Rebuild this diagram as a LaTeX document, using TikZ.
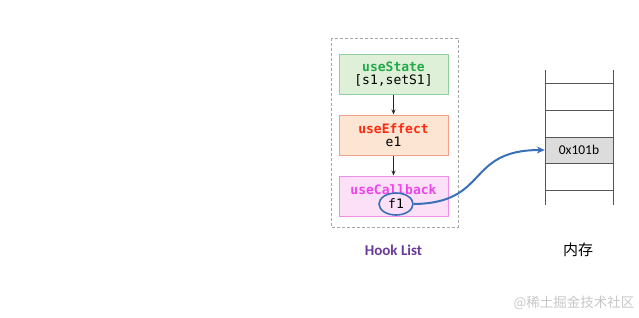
\documentclass[tikz,border=0pt]{standalone}
\usepackage{fontspec}
\setmainfont{Carlito}
\setmonofont{DejaVu Sans Mono}
\newfontfamily\cjk{Noto Sans CJK SC}
\usetikzlibrary{arrows.meta,shapes.geometric}
\definecolor{stfill}{HTML}{DFF0D8}
\definecolor{stdraw}{HTML}{90D0A0}
\definecolor{sttext}{HTML}{22AA4A}
\definecolor{effill}{HTML}{FCE5D3}
\definecolor{efdraw}{HTML}{F3A08A}
\definecolor{eftext}{HTML}{FF2A10}
\definecolor{cbfill}{HTML}{FBE0F8}
\definecolor{cbdraw}{HTML}{EE90EA}
\definecolor{cbtext}{HTML}{EE44EE}
\definecolor{linkblue}{HTML}{3A70B8}
\definecolor{hookpurple}{HTML}{6A3A9A}
\definecolor{cellgray}{HTML}{DCDCDC}
\definecolor{memline}{HTML}{555555}
\tikzset{
  hookbox/.style={minimum width=109pt, minimum height=40pt, inner sep=0pt, align=center, font=\ttfamily\fontsize{13}{15}\selectfont, line width=1pt},
  flow/.style={-{Stealth[length=5pt,width=4pt]}, line width=0.8pt, black!85},
  memln/.style={memline, line width=0.8pt}
}
\begin{document}
\begin{tikzpicture}[x=1pt,y=-1pt]
\useasboundingbox (0,0) rectangle (639,317);
% dashed hook list container
\draw[gray!70, dash pattern=on 3pt off 2pt, line width=0.8pt] (331,38) rectangle (458,227);
\node[hookbox, draw=stdraw, fill=stfill] (state) at (393.5,74) {\textcolor{sttext}{\bfseries useState}\\[-2pt][s1,setS1]};
\node[hookbox, draw=efdraw, fill=effill] (effect) at (393.5,135) {\textcolor{eftext}{\bfseries useEffect}\\[-2pt]e1};
\node[hookbox, draw=cbdraw, fill=cbfill] (cb) at (393.5,196) {\textcolor{cbtext}{\bfseries useCallback}\\[-2pt]\phantom{f1}};
\node[font=\ttfamily\fontsize{13}{15}\selectfont, ellipse, draw=linkblue, line width=1.6pt, minimum width=34pt, minimum height=22pt, inner sep=0pt] (f1) at (396,204) {f1};
\draw[flow] (state) -- (effect);
\draw[flow] (effect) -- (cb);
% memory
\node[fill=cellgray, minimum width=68pt, minimum height=26pt, inner sep=0pt, font=\fontsize{13.5}{15}\selectfont] (cell) at (579,150) {0x101b};
\coordinate (mtl) at (545,70);
\coordinate (mbl) at (545,205);
\coordinate (mtr) at (613,70);
\coordinate (mbr) at (613,205);
\draw[memln] (mtl) -- (mbl);
\draw[memln] (mtr) -- (mbr);
\foreach \yy in {83,110,137,163,190} {
  \draw[memln] (545,\yy) -- (613,\yy);
}
\draw[linkblue, line width=2pt, -{Stealth[length=8pt,width=7pt]}] (f1.east) .. controls (490,203) and (465,150) .. (cell.west);
% labels
\node[font=\bfseries\fontsize{15}{17}\selectfont, text=hookpurple] (hl) at (393.5,250) {Hook List};
\node[font=\cjk\fontsize{15}{17}\selectfont] (mem) at (578,250) {内存};
\node[font=\cjk\fontsize{13.5}{15}\selectfont, text=black!22, anchor=east] (wm) at (638,303) {@稀土掘金技术社区};
\end{tikzpicture}
\end{document}
